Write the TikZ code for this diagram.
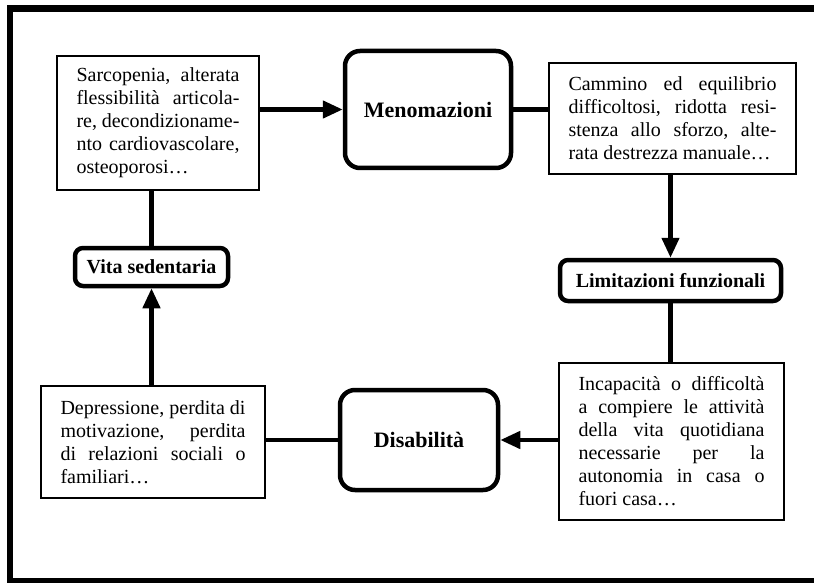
\documentclass[tikz,border=0pt]{standalone}
\usepackage{fontspec}
\setmainfont{Liberation Serif}
\usetikzlibrary{arrows.meta}
\newcommand{\J}[1]{\hbox to\linewidth{#1}}
\begin{document}
\begin{tikzpicture}[x=1pt,y=-1pt,
  txtbox/.style={draw, line width=1.5pt, rectangle, inner sep=0pt, font=\fontsize{20}{23}\selectfont},
  keybox/.style={draw, line width=4.5pt, rectangle, rounded corners=#1, inner sep=0pt},
  bigbold/.style={font=\bfseries\fontsize{22}{25}\selectfont},
  smallbold/.style={font=\bfseries\fontsize{20}{23}\selectfont},
  link/.style={line width=4.5pt},
  arr/.style={link, -{Triangle[length=20pt,width=17pt]}}]
\useasboundingbox (0,0) rectangle (814,583);
\begin{scope}
\clip (0,0) rectangle (814,583);
\draw[line width=6.5pt] (10,8.5) rectangle (830,581.5);
\end{scope}

\node[txtbox, minimum width=202pt, minimum height=134pt] (sarc) at (158,123)
 {\parbox{163pt}{\J{Sarcopenia,\hfill alterata}\J{flessibilità\hfill articola-}\J{re,\hfill decondizioname-}\J{nto\hfill cardiovascolare,}\hbox{osteoporosi…}}};
\node[txtbox, minimum width=247pt, minimum height=111pt] (cam) at (672.5,118.5)
 {\parbox{208pt}{\J{Cammino\hfill ed\hfill equilibrio}\J{difficoltosi,\hfill ridotta\hfill resi-}\J{stenza\hfill allo\hfill sforzo,\hfill alte-}\hbox{rata destrezza manuale…}}};
\node[txtbox, minimum width=225pt, minimum height=157pt] (inc) at (671.5,441.5)
 {\parbox{186pt}{\J{Incapacità\hfill o\hfill difficoltà}\J{a\hfill compiere\hfill le\hfill attività}\J{della\hfill vita\hfill quotidiana}\J{necessarie\hfill per\hfill la}\J{autonomia\hfill in\hfill casa\hfill o}\hbox{fuori casa…}}};
\node[txtbox, minimum width=224pt, minimum height=112pt] (dep) at (153,442)
 {\parbox{185pt}{\J{Depressione,\hfill perdita\hfill di}\J{motivazione,\hfill perdita}\J{di\hfill relazioni\hfill sociali\hfill o}\hbox{familiari…}}};

\node[keybox=15pt, bigbold, minimum width=166pt, minimum height=117pt] (meno) at (428,109.5) {Menomazioni};
\node[keybox=8pt, smallbold, minimum width=221pt, minimum height=41pt] (lim) at (670.5,280.5) {Limitazioni funzionali};
\node[keybox=8pt, smallbold, minimum width=153pt, minimum height=38pt] (vita) at (151.5,267) {Vita sedentaria};
\node[keybox=15pt, bigbold, minimum width=158pt, minimum height=100pt] (dis) at (419,440) {Disabilità};

\draw[arr] (sarc.east |- meno.west) -- (meno.west);
\draw[link] (meno.east) -- (meno.east -| cam.west);
\draw[arr] (cam.south -| lim.north) -- (lim.north);
\draw[link] (lim.south) -- (lim.south |- inc.north);
\draw[arr] (inc.west |- dis.east) -- (dis.east);
\draw[link] (dis.west) -- (dis.west -| dep.east);
\draw[arr] (vita.south |- dep.north) -- (vita.south);
\draw[link] (sarc.south -| vita.north) -- (vita.north);
\end{tikzpicture}
\end{document}
